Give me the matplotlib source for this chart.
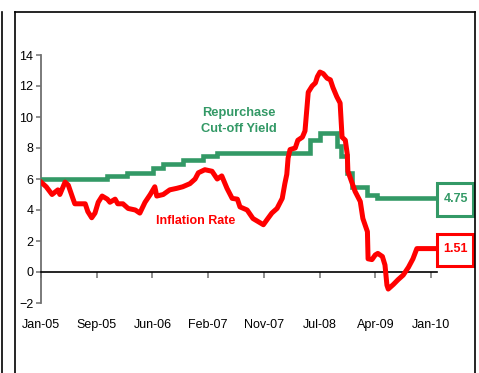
import matplotlib
matplotlib.use("Agg")
import matplotlib.pyplot as plt
from matplotlib.patches import Rectangle
from matplotlib.lines import Line2D

plt.rcParams['font.family'] = ['Liberation Sans', 'DejaVu Sans']

# months since Jan-05
red_x = [0, 0.8, 1.7, 2.6, 2.9, 3.7, 4.2, 4.9, 5.2, 6.0, 6.8, 7.2, 7.8, 8.3, 8.8,
         9.4, 10.2, 10.6, 11.4, 11.8, 12.6, 13.4, 14.5, 15.2, 16.0, 16.8, 17.5,
         17.8, 18.8, 19.8, 20.9, 21.8, 22.9, 23.7, 24.2, 25.2, 26.3, 27.1, 27.8,
         28.6, 29.4, 30.2, 30.6, 31.7, 32.6, 33.4, 34.2, 34.8, 35.5, 36.3, 37.1,
         37.5, 37.8, 38.0, 38.3, 39.1, 39.5, 40.2, 40.6, 41.1, 41.7, 42.2, 42.5,
         42.9, 43.4, 44.0, 44.5, 44.9, 45.5, 46.0, 46.3, 46.8, 47.1, 47.2, 48.3,
         49.1, 49.5, 50.2, 50.3, 50.9, 51.4, 51.8, 52.5, 52.9, 53.2, 53.4, 54.2,
         54.9, 55.7, 56.5, 57.2, 57.8, 60.9]
inflation = [5.8, 5.5, 5.0, 5.3, 5.0, 5.8, 5.6, 4.75, 4.4, 4.4, 4.4, 3.9, 3.5, 3.8,
             4.5, 4.9, 4.7, 4.5, 4.7, 4.4, 4.4, 4.1, 4.0, 3.8, 4.5, 5.0, 5.5,
             4.9, 5.0, 5.3, 5.4, 5.5, 5.7, 6.0, 6.4, 6.6, 6.5, 6.0, 6.2,
             5.4, 4.75, 4.7, 4.2, 4.0, 3.45, 3.25, 3.05, 3.4, 3.8, 4.1, 4.75,
             5.7, 6.3, 7.35, 7.9, 8.0, 8.5, 8.7, 9.1, 11.6, 12.0, 12.2, 12.6,
             12.9, 12.8, 12.5, 12.4, 11.9, 11.3, 10.9, 8.7, 8.5, 7.6, 6.5, 5.2,
             4.55, 3.45, 2.6, 0.85, 0.8, 1.1, 1.2, 1.0, 0.45, -0.85, -1.1, -0.8,
             -0.5, -0.2, 0.3, 0.85, 1.51, 1.51]

green_x = [0, 10.2, 13.2, 17.2, 18.8, 21.8, 24.9, 27.1, 41.4, 42.9, 45.5, 46.2,
           47.1, 47.8, 50.2, 51.7, 60.9]
repo_yield = [6.0, 6.2, 6.4, 6.7, 7.0, 7.2, 7.5, 7.7, 8.5, 9.0, 8.1, 7.5,
              6.4, 5.5, 5.0, 4.75, 4.75]

tick_labels = ['Jan-05', 'Sep-05', 'Jun-06', 'Feb-07', 'Nov-07', 'Jul-08',
               'Apr-09', 'Jan-10']
tick_pos = [i * 60 / 7 for i in range(8)]

red = '#FF0000'
green = '#339966'

fig = plt.figure(figsize=(4.79, 3.73), dpi=100)
ax = fig.add_axes([41 / 479, 1 - 303 / 373, (437 - 41) / 479, (303 - 55) / 373])

ax.plot(green_x, repo_yield, color=green, lw=3.3, drawstyle='steps-post',
        solid_joinstyle='miter', zorder=3)
ax.plot(red_x, inflation, color=red, lw=3.6, zorder=4)

ax.set_xlim(0, 60.9)
ax.set_ylim(-2, 14)
ax.set_yticks(range(-2, 15, 2))
ax.set_xticks(tick_pos)
ax.set_xticklabels(tick_labels)

for s in ['top', 'right']:
    ax.spines[s].set_visible(False)
ax.spines['left'].set_color('#707070')
ax.spines['left'].set_linewidth(1.3)
ax.spines['bottom'].set_position(('data', 0))
ax.spines['bottom'].set_color('black')
ax.spines['bottom'].set_linewidth(1.2)
ax.tick_params(axis='y', direction='out', length=3.5, width=1.1, color='#707070',
               labelsize=9, pad=2)
ax.tick_params(axis='x', direction='out', length=4, width=1.1, color='#707070',
               labelsize=9, pad=30)

ax.text(30.5, 9.75, 'Repurchase\nCut-off Yield', color=green, fontsize=9.3,
        fontweight='bold', ha='center', va='center', linespacing=1.5)
ax.text(23.8, 3.3, 'Inflation Rate', color=red, fontsize=9,
        fontweight='bold', ha='center', va='center')

# end-value boxes on the right
for v, c, txt in [(4.75, green, '4.75'), (1.51, red, '1.51')]:
    ax.add_patch(Rectangle((60.9, v - 1.15), 5.6, 2.12, fill=False, ec=c, lw=2.2,
                           clip_on=False, zorder=5))
    ax.text(63.75, v - 0.05, txt, color=c, fontsize=9, fontweight='bold',
            ha='center', va='center', clip_on=False)

# outer frame lines
W, H = 479, 373
def fline(x0, y0, x1, y1):
    fig.add_artist(Line2D([x0 / W, x1 / W], [1 - y0 / H, 1 - y1 / H],
                          color='black', lw=1.2))
fline(1.5, 12, 1.5, 373)
fline(15.5, 12, 474.5, 12)
fline(15.5, 12, 15.5, 373)
fline(474.5, 12, 474.5, 373)

fig.savefig('out.png', dpi=100)
